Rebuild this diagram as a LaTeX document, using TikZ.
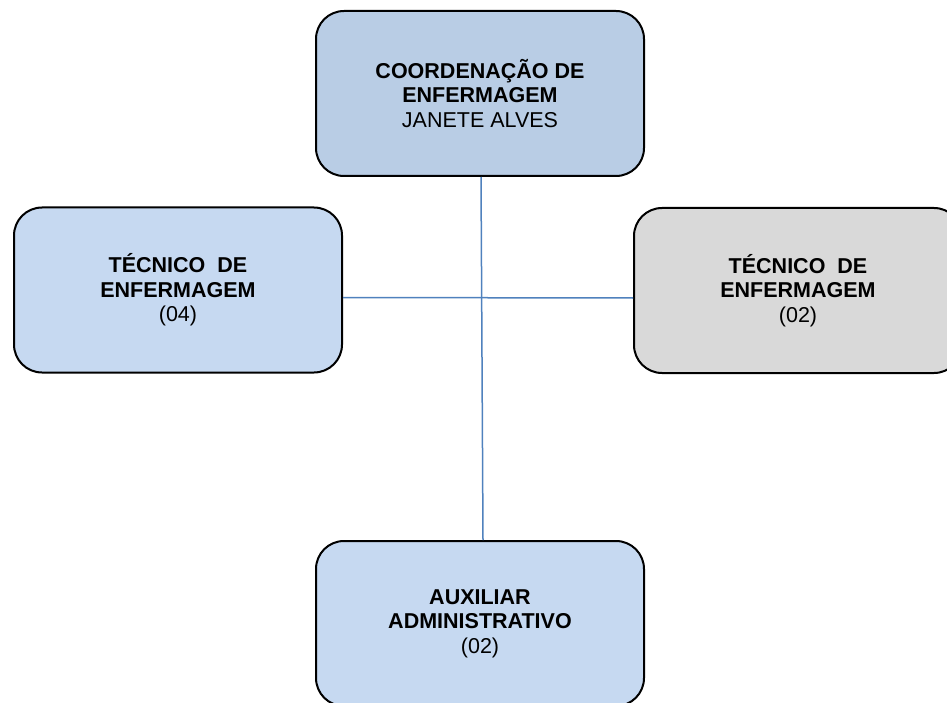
\documentclass[tikz,border=0pt]{standalone}
\usepackage{fontspec}
\setmainfont{Liberation Sans}
\definecolor{boxtop}{HTML}{B9CDE5}
\definecolor{boxblue}{HTML}{C6D9F1}
\definecolor{boxgray}{HTML}{D9D9D9}
\definecolor{linkblue}{HTML}{4F81BD}
\newcommand{\orgbox}[5]{%
  \node[draw=black, line width=2pt, rounded corners=28pt, fill=#4,
        minimum width=328pt, minimum height=165pt, align=center,
        inner sep=0pt] (#1) at (#2,#3) {#5};}

\begin{document}
\begin{tikzpicture}[x=1pt, y=-1pt, font=\fontsize{21.5}{24.5}\selectfont]
      \useasboundingbox (0,0) rectangle (947,703);
      \orgbox{coord}{480}{93.5}{boxtop}{\textbf{COORDENAÇÃO DE}\\
                          \textbf{ENFERMAGEM}\\ JANETE ALVES}
      \orgbox{tecA}{178}{290}{boxblue}{\textbf{TÉCNICO\ \ DE}\\
                          \textbf{ENFERMAGEM}\\ (04)}
      \orgbox{tecB}{798}{290.5}{boxgray}{\textbf{TÉCNICO\ \ DE}\\
                          \textbf{ENFERMAGEM}\\ (02)}
      \orgbox{aux}{480}{623.5}{boxblue}{\textbf{AUXILIAR}\\
                          \textbf{ADMINISTRATIVO}\\ (02)}
      \draw[linkblue, line width=1.5pt] ([xshift=1pt]coord.south) -- ([xshift=3pt]aux.north);
      \draw[linkblue, line width=1.5pt] ([yshift=-7.5pt]tecA.east) -- ([yshift=-7.5pt]tecB.west);
    \end{tikzpicture}
\end{document}
